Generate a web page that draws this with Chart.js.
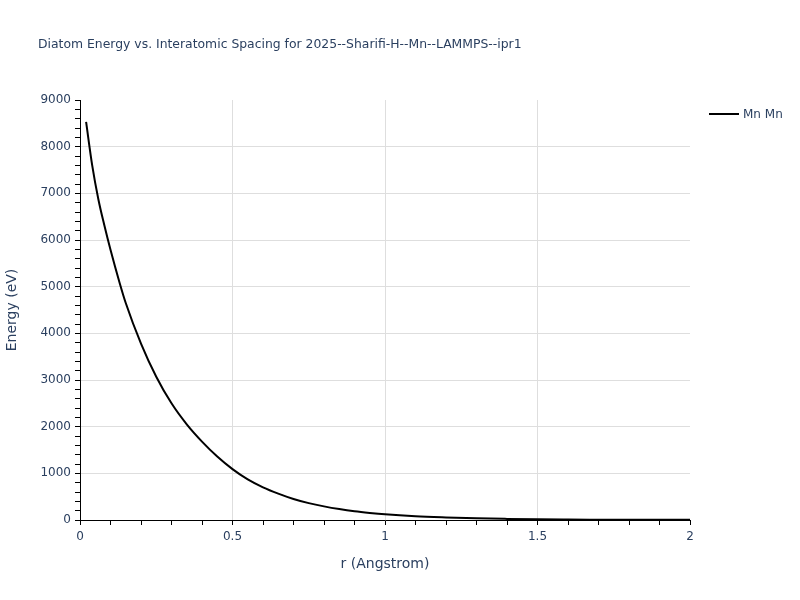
<!DOCTYPE html>
<html lang="en">
<head>
<meta charset="UTF-8">
<title>Diatom Energy</title>
<script src="https://cdn.jsdelivr.net/npm/chart.js@4.4.1/dist/chart.umd.min.js"></script>
<style>
    body { margin: 0; background: #fff; }
    #wrap { width: 800px; height: 600px; }
</style>
</head>
<body>
<div id="wrap"><canvas id="c" width="800" height="600"></canvas></div>
<script>
    // values
    const seriesName = 'Mn Mn';
    const rValues = [0.02, 0.04, 0.06, 0.08, 0.10, 0.13, 0.15, 0.20, 0.25, 0.30, 0.35, 0.40, 0.45, 0.50,
        0.55, 0.60, 0.65, 0.70, 0.75, 0.80, 0.85, 0.90, 0.95, 1.00, 1.10, 1.20, 1.30, 1.40, 1.50,
        1.60, 1.70, 1.80, 1.90, 2.00];
    const energyValues = [8530, 7600, 6880, 6310, 5790, 5080, 4650, 3780, 3070, 2500, 2050, 1680, 1360, 1090,
        870, 700, 565, 450, 362, 292, 234, 187, 151, 121, 80, 55, 36, 24, 15,
        10, 7, 5, 4, 3];
    const xMajorTicks = [0, 0.5, 1, 1.5, 2];
    const yMajorTicks = [0, 1000, 2000, 3000, 4000, 5000, 6000, 7000, 8000, 9000];

    const FONT = '"DejaVu Sans", Verdana, sans-serif';
    const TEXT = '#2a3f5f';
    const GRID = '#dedede';

    function minorList(max, step) {
        let out = [];
        for (let i = 0; i * step <= max + 1e-9; i++) out.push(+(i * step).toFixed(4));
        return out;
    }
    const xTicks = minorList(2, 0.1);
    const yTicks = minorList(9000, 200);
    const isMajor = (list, v) => list.some(m => Math.abs(m - v) < 1e-6);

    const headerPlugin = {
        id: 'header',
        afterDraw(chart) {
            const ctx = chart.ctx;
            ctx.save();
            ctx.fillStyle = TEXT;
            ctx.font = '12.4px ' + FONT;
            ctx.textBaseline = 'middle';
            ctx.textAlign = 'left';
            ctx.fillText('Diatom Energy vs. Interatomic Spacing for 2025--Sharifi-H--Mn--LAMMPS--ipr1', 38, 45);
            // legend
            ctx.strokeStyle = '#000';
            ctx.lineWidth = 2;
            ctx.beginPath();
            ctx.moveTo(709, 114);
            ctx.lineTo(739, 114);
            ctx.stroke();
            ctx.font = '12px ' + FONT;
            ctx.fillText(seriesName, 743, 115);
            ctx.restore();
        }
    };

    new Chart(document.getElementById('c'), {
        type: 'line',
        data: {
            datasets: [{
                label: seriesName,
                data: rValues.map((r, i) => ({ x: r, y: energyValues[i] })),
                borderColor: '#000',
                borderWidth: 2,
                pointRadius: 0,
                cubicInterpolationMode: 'monotone',
                fill: false
            }]
        },
        options: {
            responsive: false,
            animation: false,
            layout: { padding: { top: 100, right: 110, left: 0, bottom: 0 } },
            plugins: {
                legend: { display: false },
                title: { display: false },
                tooltip: { enabled: false }
            },
            scales: {
                x: {
                    type: 'linear',
                    min: 0,
                    max: 2,
                    afterFit(s) { s.height = 80; },
                    afterBuildTicks(s) { s.ticks = xTicks.map(v => ({ value: v })); },
                    ticks: {
                        autoSkip: false,
                        maxRotation: 0,
                        padding: 5,
                        color: TEXT,
                        font: { family: FONT, size: 12 },
                        callback: v => isMajor(xMajorTicks, v) ? String(v) : ''
                    },
                    grid: {
                        color: c => (c.tick && isMajor(xMajorTicks, c.tick.value) && c.tick.value > 0 && c.tick.value < 2) ? GRID : 'rgba(0,0,0,0)',
                        tickColor: '#000',
                        tickLength: 5,
                        lineWidth: 1
                    },
                    border: { display: true, color: '#000', width: 1 },
                    title: {
                        display: true,
                        text: 'r (Angstrom)',
                        color: TEXT,
                        font: { family: FONT, size: 14 },
                        padding: { top: 0, bottom: 27 }
                    }
                },
                y: {
                    type: 'linear',
                    min: 0,
                    max: 9000,
                    afterFit(s) { s.width = 80; },
                    afterBuildTicks(s) { s.ticks = yTicks.map(v => ({ value: v })); },
                    ticks: {
                        autoSkip: false,
                        padding: 4,
                        color: TEXT,
                        font: { family: FONT, size: 12 },
                        callback: v => isMajor(yMajorTicks, v) ? String(v) : ''
                    },
                    grid: {
                        color: c => (c.tick && isMajor(yMajorTicks, c.tick.value) && c.tick.value > 0 && c.tick.value < 9000) ? GRID : 'rgba(0,0,0,0)',
                        tickColor: '#000',
                        tickLength: 5,
                        lineWidth: 1
                    },
                    border: { display: true, color: '#000', width: 1 },
                    title: {
                        display: true,
                        text: 'Energy (eV)',
                        color: TEXT,
                        font: { family: FONT, size: 14 },
                        padding: { top: 4, bottom: 0 }
                    }
                }
            }
        },
        plugins: [headerPlugin]
    });
</script>
</body>
</html>
